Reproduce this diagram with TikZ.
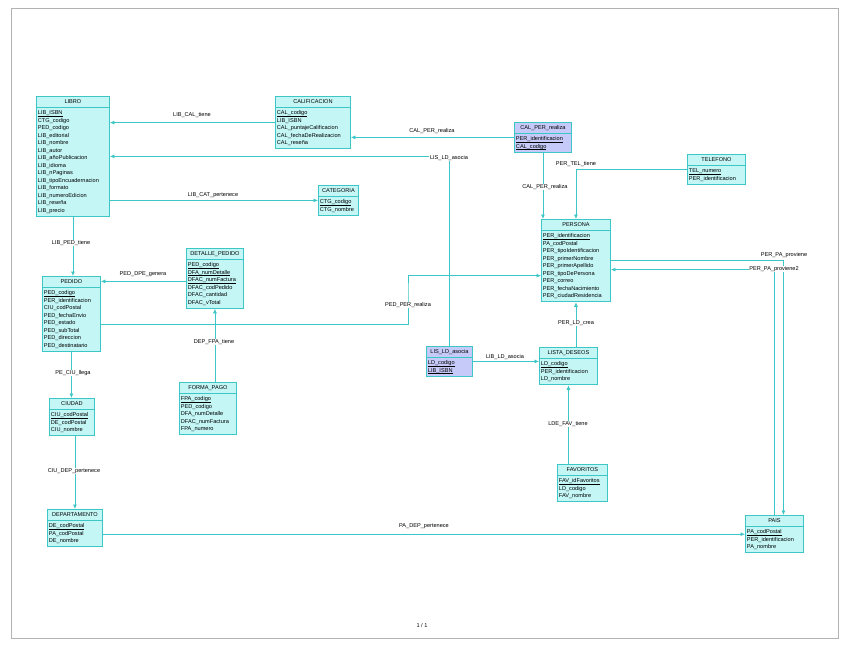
\documentclass[tikz,border=0pt]{standalone}
\usepackage{fontspec}
\setmainfont{Liberation Sans}
\usetikzlibrary{shapes.multipart,arrows.meta}
\definecolor{linea}{HTML}{3CC6C6}
\definecolor{ficha}{HTML}{C4F6F6}
\definecolor{relacion}{HTML}{C6CAF8}
\newcommand{\ficha}[2]{\strut\hfill #1\hfill\null\nodepart{two}\strut #2\strut}
\newcommand{\clave}[1]{\leavevmode\setbox0\hbox{#1}\rlap{\rule[-1.4pt]{\wd0}{0.35pt}}\box0}

\begin{document}
\begin{tikzpicture}[x=1pt,y=-1pt,
  font=\fontsize{5.6}{7.5}\selectfont,
  >={Latex[length=4.5pt,width=4pt]},
  tabla/.style={rectangle split,rectangle split parts=2,draw=linea,line width=0.9pt,
    fill=ficha,anchor=north west,align=left,inner xsep=1.5pt,inner ysep=1.4pt},
  asocia/.style={tabla,fill=relacion},
  rel/.style={draw=linea,line width=0.7pt,->},
  etiqueta/.style={fill=white,inner sep=0.6pt}]
\useasboundingbox (0,0) rectangle (848,655);
\draw[gray!60] (11,8) rectangle (838,638);

\node[tabla,text width=70pt] (libro) at (36,96) {\ficha{LIBRO}{\clave{LIB\_ISBN}\\CTG\_codigo\\PED\_codigo\\LIB\_editorial\\LIB\_nombre\\LIB\_autor\\LIB\_añoPublicacion\\LIB\_idioma\\LIB\_nPaginas\\LIB\_tipoEncuadernacion\\LIB\_formato\\LIB\_numeroEdicion\\LIB\_reseña\\LIB\_precio}};
\node[tabla,text width=72pt] (calif) at (275,96) {\ficha{CALIFICACION}{\clave{CAL\_codigo}\\LIB\_ISBN\\CAL\_puntajeCalificacion\\CAL\_fechaDeRealizacion\\CAL\_reseña}};
\node[asocia,text width=54pt] (calper) at (514,122) {\ficha{CAL\_PER\_realiza}{\clave{PER\_identificacion}\\\clave{CAL\_codigo}}};
\node[tabla,text width=55pt] (telefono) at (687,154) {\ficha{TELEFONO}{\clave{TEL\_numero}\\PER\_identificacion}};
\node[tabla,text width=37pt] (categoria) at (318,185) {\ficha{CATEGORIA}{\clave{CTG\_codigo}\\CTG\_nombre}};
\node[tabla,text width=54pt] (detalle) at (186,248) {\ficha{DETALLE\_PEDIDO}{\clave{PED\_codigo}\\\clave{DFA\_numDetalle}\\\clave{DFAC\_numFactura}\\DFAC\_codPedido\\DFAC\_cantidad\\DFAC\_vTotal}};
\node[tabla,text width=55pt] (pedido) at (42,276) {\ficha{PEDIDO}{\clave{PED\_codigo}\\PER\_identificacion\\CIU\_codPostal\\PED\_fechaEnvio\\PED\_estado\\PED\_subTotal\\PED\_direccion\\PED\_destinatario}};
\node[tabla,text width=66pt] (persona) at (541,219) {\ficha{PERSONA}{\clave{PER\_identificacion}\\PA\_codPostal\\PER\_tipoIdentificacion\\PER\_primerNombre\\PER\_primerApellido\\PER\_tipoDePersona\\PER\_correo\\PER\_fechaNacimiento\\PER\_ciudadResidencia}};
\node[asocia,text width=43pt] (lisld) at (426,346) {\ficha{LIS\_LD\_asocia}{\clave{LD\_codigo}\\\clave{LIB\_ISBN}}};
\node[tabla,text width=55pt] (listad) at (539,347) {\ficha{LISTA\_DESEOS}{\clave{LD\_codigo}\\PER\_identificacion\\LD\_nombre}};
\node[tabla,text width=54pt] (fpago) at (179,382) {\ficha{FORMA\_PAGO}{\clave{FPA\_codigo}\\PED\_codigo\\DFA\_numDetalle\\DFAC\_numFactura\\FPA\_numero}};
\node[tabla,text width=42pt] (ciudad) at (49,398) {\ficha{CIUDAD}{\clave{CIU\_codPostal}\\DE\_codPostal\\CIU\_nombre}};
\node[tabla,text width=47pt] (favoritos) at (557,464) {\ficha{FAVORITOS}{\clave{FAV\_idFavoritos}\\LD\_codigo\\FAV\_nombre}};
\node[tabla,text width=52pt] (depto) at (47,509) {\ficha{DEPARTAMENTO}{\clave{DE\_codPostal}\\PA\_codPostal\\DE\_nombre}};
\node[tabla,text width=55pt] (pais) at (745,515) {\ficha{PAIS}{\clave{PA\_codPostal}\\PER\_identificacion\\PA\_nombre}};

\coordinate (quiebre) at (408,290);

\draw[rel] (calif.west) -- (calif.west -| libro.east);
\draw[rel] (calper.west) -- (calper.west -| calif.east);
\draw[rel] (lisld.north) |- (libro.east);
\draw[rel] (libro.east |- categoria.west) -- (categoria.west);
\draw[rel] (libro.south) -- (libro.south |- pedido.north);
\draw[rel] ([yshift=-3pt]detalle.west) -- ([yshift=-3pt]detalle.west -| pedido.east);
\draw[rel] (detalle.south |- fpago.north) -- (detalle.south);
\draw[rel] ([yshift=-10pt]pedido.east) -| (quiebre) |- ([yshift=-15pt]persona.west);
\draw[rel] (calper.south) -- (calper.south |- persona.north);
\draw[rel] (telefono.west) -| (persona.north);
\draw[rel] (persona.east) -| ([xshift=9pt]pais.north);
\draw[rel] (pais.north) |- ([yshift=-9pt]persona.east);
\draw[rel] (persona.south |- listad.north) -- (persona.south);
\draw[rel] (lisld.east) -- (lisld.east -| listad.west);
\draw[rel] (listad.south |- favoritos.north) -- (listad.south);
\draw[rel] (pedido.south) -- (pedido.south |- ciudad.north);
\draw[rel] (depto.north |- ciudad.south) -- (depto.north);
\draw[rel] (depto.east |- pais.west) -- (pais.west);

\node[etiqueta] (eLibCal) at (192,115) {LIB\_CAL\_tiene};
\node[etiqueta] (eCalPer) at (432,131) {CAL\_PER\_realiza};
\node[etiqueta] (eLisLd) at (449,158) {LIS\_LD\_asocia};
\node[etiqueta] (eLibCat) at (213,195) {LIB\_CAT\_pertenece};
\node[etiqueta] (eLibPed) at (71,243) {LIB\_PED\_tiene};
\node[etiqueta] (ePedDpe) at (143,274) {PED\_DPE\_genera};
\node[etiqueta] (eDepFpa) at (214,342) {DEP\_FPA\_tiene};
\node[etiqueta] (ePedPer) at (408,305) {PED\_PER\_realiza};
\node[etiqueta] (ePerTel) at (576,164) {PER\_TEL\_tiene};
\node[etiqueta] (eCalPerDos) at (545,187) {CAL\_PER\_realiza};
\node[etiqueta] (ePerPa) at (784,255) {PER\_PA\_proviene};
\node[etiqueta] (ePerPaDos) at (774,269) {PER\_PA\_proviene2};
\node[etiqueta] (ePerLd) at (576,323) {PER\_LD\_crea};
\node[etiqueta] (eLibLd) at (505,357) {LIB\_LD\_asocia};
\node[etiqueta] (eLdeFav) at (568,424) {LDE\_FAV\_tiene};
\node[etiqueta] (ePeCiu) at (73,373) {PE\_CIU\_llega};
\node[etiqueta] (eCiuDep) at (74,471) {CIU\_DEP\_pertenece};
\node[etiqueta] (ePaDep) at (424,526) {PA\_DEP\_pertenece};
\node (pagina) at (422,625) {1 / 1};
\end{tikzpicture}
\end{document}
